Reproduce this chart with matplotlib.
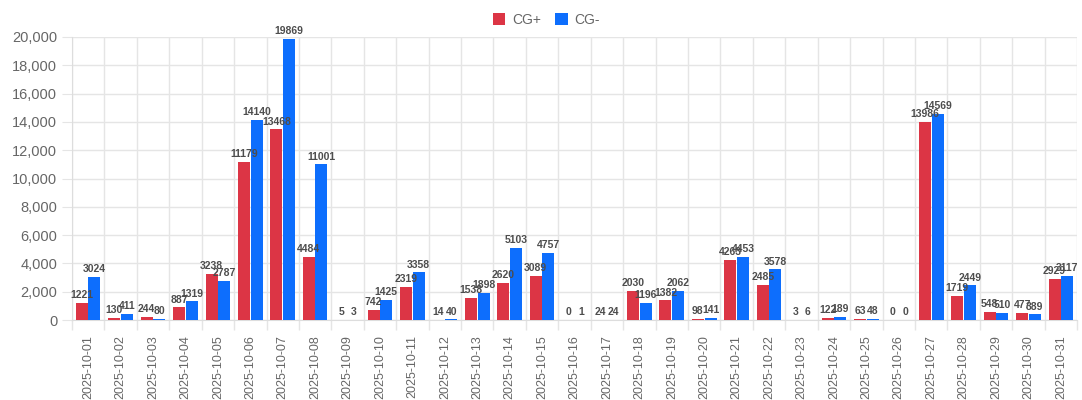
import matplotlib

matplotlib.use("Agg")

import matplotlib.pyplot as plt
import numpy as np
from matplotlib.ticker import FuncFormatter, MultipleLocator

plt.rcParams["font.family"] = ["Liberation Sans", "DejaVu Sans"]

dates = [f"2025-10-{d:02d}" for d in range(1, 32)]
cg_plus = [1221, 130, 244, 887, 3238, 11179, 13468, 4484, 5, 742, 2319, 14, 1538, 2620, 3089,
           0, 24, 2030, 1382, 98, 4263, 2485, 3, 122, 63, 0, 13986, 1719, 548, 477, 2929]
cg_minus = [3024, 411, 80, 1319, 2787, 14140, 19869, 11001, 3, 1425, 3358, 40, 1898, 5103, 4757,
            1, 24, 1196, 2062, 141, 4453, 3578, 6, 189, 48, 0, 14569, 2449, 510, 389, 3117]

RED = "#dc3545"
BLUE = "#0d6efd"
GRID = "#e5e5e5"

fig = plt.figure(figsize=(10.82, 4.0), dpi=100)
ax = fig.add_axes([0.0665, 0.2, 0.929, 0.7075])

x = np.arange(len(dates))
w = 0.37
b1 = ax.bar(x - w / 2 - 0.01, cg_plus, width=w, color=RED, label="CG+", zorder=3)
b2 = ax.bar(x + w / 2 + 0.01, cg_minus, width=w, color=BLUE, label="CG-", zorder=3)

for bars in (b1, b2):
    for rect in bars:
        h = rect.get_height()
        ax.text(rect.get_x() + rect.get_width() / 2, h + 200, str(int(h)),
                ha="center", va="bottom", fontsize=7.5, fontweight="bold", color="#4d4d4d", zorder=4)

ax.set_xlim(-0.5, len(dates) - 0.5)
ax.set_ylim(0, 20000)
ax.yaxis.set_major_locator(MultipleLocator(2000))
ax.yaxis.set_major_formatter(FuncFormatter(lambda v, _: f"{int(v):,}"))

ax.set_xticks(x)
ax.set_xticklabels(dates, rotation=90, fontsize=9, color="#666666")
ax.set_xticks(np.arange(-0.5, len(dates), 1), minor=True)
ax.tick_params(axis="x", which="major", length=0, pad=11)
ax.tick_params(axis="x", which="minor", length=7.5, color=GRID, width=1)
ax.tick_params(axis="y", length=7.5, color=GRID, labelsize=10.5, labelcolor="#666666", pad=3)

ax.grid(axis="y", color=GRID, linewidth=1, zorder=0)
ax.grid(axis="x", which="minor", color=GRID, linewidth=1, zorder=0)
for side in ("top", "right"):
    ax.spines[side].set_visible(False)
ax.spines["left"].set_color("#dddddd")
ax.spines["bottom"].set_color("#dddddd")

leg = fig.legend(loc="upper center", bbox_to_anchor=(0.505, 1.0), ncol=2, frameon=False,
                 fontsize=10, handlelength=0.9, handleheight=1.0, columnspacing=1.0,
                 handletextpad=0.5)
for t in leg.get_texts():
    t.set_color("#666666")

fig.savefig("out.png", dpi=100)
